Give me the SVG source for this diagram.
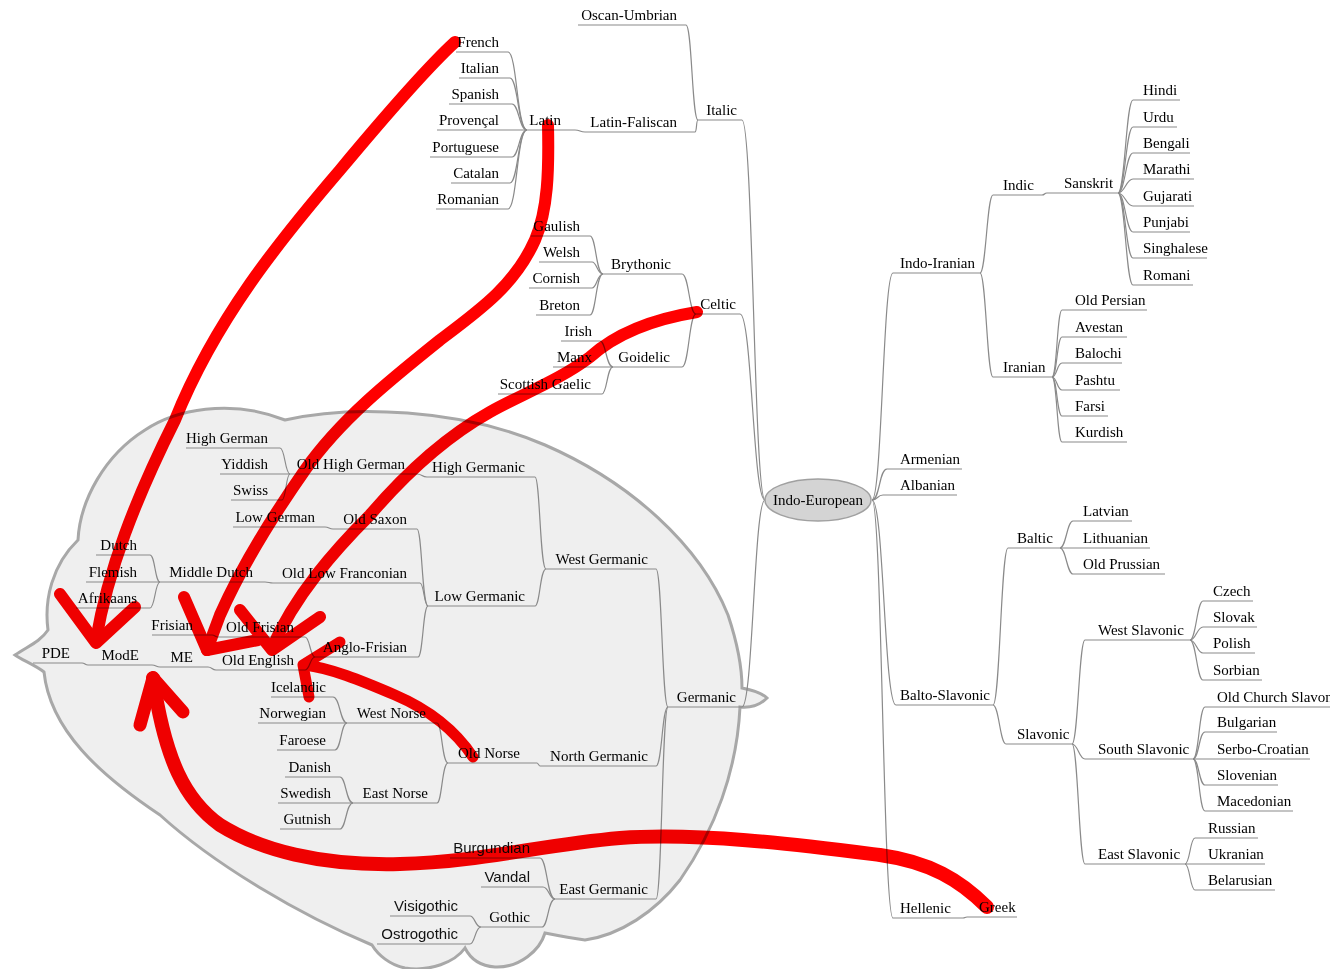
<svg xmlns="http://www.w3.org/2000/svg" width="1330" height="969" viewBox="0 0 1330 969">
<style>
.t{font-family:"Liberation Serif","Times New Roman",serif;font-size:15px;fill:#000}
.s{font-family:"Liberation Sans",Arial,sans-serif;font-size:15px;fill:#111}
.e{text-anchor:end}
.u{stroke:#8a8a8a;stroke-width:1.2;fill:none}
#connectors path{stroke:#8a8a8a;stroke-width:1.2;fill:none}
#annotations path{fill:none;stroke:#ff0000;stroke-linecap:round;stroke-linejoin:round}
</style>
<rect width="1330" height="969" fill="#fff"/>
<path id="cloud" d="M15,655 C28,646 40,642 48,630 C44,600 52,565 78,540 C80,500 105,455 145,430 C175,410 230,398 285,420 C350,405 460,408 545,445 C630,482 700,545 728,615 C738,645 742,670 742,688 C752,690 762,693 767,698 C760,705 750,708 740,707 C737,770 715,830 680,880 C655,912 620,935 585,940 C570,938 555,935 545,933 C540,950 520,968 495,967 C480,966 470,958 465,948 C455,962 430,972 405,968 C390,965 378,955 372,945 C300,915 215,865 160,815 C100,775 50,730 44,672 C35,665 22,660 15,655 Z" fill="#efefef" stroke="#a8a8a8" stroke-width="3"/>
<g id="connectors">
<path d="M742,120 C753,120 754,500 765,500"/>
<path d="M740,314 C752,314 753,500 765,500"/>
<path d="M742,707 C753,707 754,500 765,500"/>
<path d="M686,25 C692,25 692,120 698,120"/>
<path d="M695,132 C697,132 696,120 698,120"/>
<path d="M575,130 C580,130 580,132 585,132"/>
<path d="M508,52 C517,52 517,130 527,130"/>
<path d="M510,78 C518,78 518,130 527,130"/>
<path d="M512,104 C519,104 519,130 527,130"/>
<path d="M512,157 C519,157 519,130 527,130"/>
<path d="M510,183 C518,183 518,130 527,130"/>
<path d="M508,209 C517,209 517,130 527,130"/>
<path d="M682,274 C689,274 689,314 696,314"/>
<path d="M682,367 C689,367 689,314 696,314"/>
<path d="M590,236 C596,236 596,274 603,274"/>
<path d="M592,262 C597,262 597,274 603,274"/>
<path d="M592,288 C597,288 597,274 603,274"/>
<path d="M590,315 C596,315 596,274 603,274"/>
<path d="M600,341 C606,341 606,367 613,367"/>
<path d="M602,394 C607,394 607,367 613,367"/>
<path d="M656,569 C662,569 662,707 668,707"/>
<path d="M656,766 C662,766 662,707 668,707"/>
<path d="M656,899 C662,899 662,707 668,707"/>
<path d="M535,477 C540,477 540,569 546,569"/>
<path d="M535,606 C540,606 540,569 546,569"/>
<path d="M417,474 C422,474 422,477 427,477"/>
<path d="M280,448 C285,448 285,474 290,474"/>
<path d="M282,500 C286,500 286,474 290,474"/>
<path d="M417,529 C422,529 422,606 428,606"/>
<path d="M420,583 C424,583 424,606 428,606"/>
<path d="M418,657 C423,657 423,606 428,606"/>
<path d="M325,527 C329,527 329,529 333,529"/>
<path d="M265,582 C269,582 269,583 273,583"/>
<path d="M150,555 C155,555 155,582 160,582"/>
<path d="M150,608 C155,608 155,582 160,582"/>
<path d="M305,637 C310,637 310,657 315,657"/>
<path d="M305,670 C310,670 310,657 315,657"/>
<path d="M212,635 C215,635 215,637 218,637"/>
<path d="M208,667 C212,667 212,670 216,670"/>
<path d="M152,665 C156,665 156,667 160,667"/>
<path d="M82,663 C85,663 85,665 88,665"/>
<path d="M537,763 C538,763 539,766 540,766"/>
<path d="M437,723 C442,723 442,763 448,763"/>
<path d="M437,803 C442,803 442,763 448,763"/>
<path d="M333,697 C340,697 340,723 347,723"/>
<path d="M335,750 C341,750 341,723 347,723"/>
<path d="M340,777 C346,777 346,803 353,803"/>
<path d="M340,829 C346,829 346,803 353,803"/>
<path d="M540,858 C547,858 547,899 555,899"/>
<path d="M543,887 C549,887 549,899 555,899"/>
<path d="M542,927 C548,927 548,899 555,899"/>
<path d="M470,916 C475,916 475,927 481,927"/>
<path d="M470,944 C475,944 475,927 481,927"/>
<path d="M872,500 C882,500 883,273 893,273"/>
<path d="M872,500 C880,500 879,469 887,469"/>
<path d="M872,500 C878,500 877,495 883,495"/>
<path d="M872,500 C884,500 884,705 896,705"/>
<path d="M872,500 C882,500 883,918 893,918"/>
<path d="M980,273 C986,273 987,195 993,195"/>
<path d="M980,273 C986,273 987,377 993,377"/>
<path d="M1042,195 C1045,195 1044,193 1047,193"/>
<path d="M1118,193 C1125,193 1126,100 1133,100"/>
<path d="M1118,193 C1125,193 1126,127 1133,127"/>
<path d="M1118,193 C1125,193 1126,153 1133,153"/>
<path d="M1118,193 C1125,193 1126,179 1133,179"/>
<path d="M1118,193 C1125,193 1126,206 1133,206"/>
<path d="M1118,193 C1125,193 1126,232 1133,232"/>
<path d="M1118,193 C1125,193 1126,258 1133,258"/>
<path d="M1118,193 C1125,193 1126,285 1133,285"/>
<path d="M1052,377 C1057,377 1057,310 1062,310"/>
<path d="M1052,377 C1057,377 1057,337 1062,337"/>
<path d="M1052,377 C1057,377 1057,363 1062,363"/>
<path d="M1052,377 C1057,377 1057,390 1062,390"/>
<path d="M1052,377 C1057,377 1057,416 1062,416"/>
<path d="M1052,377 C1057,377 1057,442 1062,442"/>
<path d="M993,705 C1000,705 1001,548 1008,548"/>
<path d="M993,705 C999,705 1000,744 1006,744"/>
<path d="M1060,548 C1066,548 1067,521 1073,521"/>
<path d="M1060,548 C1066,548 1067,574 1073,574"/>
<path d="M1072,744 C1078,744 1079,640 1085,640"/>
<path d="M1072,744 C1078,744 1079,759 1085,759"/>
<path d="M1072,744 C1078,744 1079,864 1085,864"/>
<path d="M1190,640 C1196,640 1197,601 1203,601"/>
<path d="M1190,640 C1196,640 1197,627 1203,627"/>
<path d="M1190,640 C1196,640 1197,653 1203,653"/>
<path d="M1190,640 C1196,640 1197,680 1203,680"/>
<path d="M1193,759 C1199,759 1199,707 1205,707"/>
<path d="M1193,759 C1199,759 1199,732 1205,732"/>
<path d="M1193,759 C1199,759 1199,785 1205,785"/>
<path d="M1193,759 C1199,759 1199,811 1205,811"/>
<path d="M1185,864 C1190,864 1190,838 1195,838"/>
<path d="M1185,864 C1190,864 1190,890 1195,890"/>
<path d="M963,918 C965,918 965,917 967,917"/>
</g>
<g id="indo-european"><ellipse cx="818" cy="500" rx="53" ry="21" fill="#d4d4d4" stroke="#a0a0a0" stroke-width="1.5"/><text class="t" x="818" y="505" text-anchor="middle">Indo-European</text></g>
<g id="italic"><text class="t e" x="737" y="115">Italic</text><line class="u" x1="698" y1="120" x2="742" y2="120"/></g>
<g id="oscan-umbrian"><text class="t e" x="677" y="20">Oscan-Umbrian</text><line class="u" x1="578" y1="25" x2="686" y2="25"/></g>
<g id="latin-faliscan"><text class="t e" x="677" y="127">Latin-Faliscan</text><line class="u" x1="585" y1="132" x2="695" y2="132"/></g>
<g id="latin"><text class="t e" x="561" y="125">Latin</text><line class="u" x1="527" y1="130" x2="575" y2="130"/></g>
<g id="french"><text class="t e" x="499" y="47">French</text><line class="u" x1="456" y1="52" x2="508" y2="52"/></g>
<g id="italian"><text class="t e" x="499" y="73">Italian</text><line class="u" x1="459" y1="78" x2="510" y2="78"/></g>
<g id="spanish"><text class="t e" x="499" y="99">Spanish</text><line class="u" x1="449" y1="104" x2="512" y2="104"/></g>
<g id="provencal"><text class="t e" x="499" y="125">Provençal</text><line class="u" x1="437" y1="130" x2="527" y2="130"/></g>
<g id="portuguese"><text class="t e" x="499" y="152">Portuguese</text><line class="u" x1="430" y1="157" x2="512" y2="157"/></g>
<g id="catalan"><text class="t e" x="499" y="178">Catalan</text><line class="u" x1="451" y1="183" x2="510" y2="183"/></g>
<g id="romanian"><text class="t e" x="499" y="204">Romanian</text><line class="u" x1="436" y1="209" x2="508" y2="209"/></g>
<g id="celtic"><text class="t e" x="736" y="309">Celtic</text><line class="u" x1="696" y1="314" x2="740" y2="314"/></g>
<g id="brythonic"><text class="t e" x="671" y="269">Brythonic</text><line class="u" x1="603" y1="274" x2="682" y2="274"/></g>
<g id="goidelic"><text class="t e" x="670" y="362">Goidelic</text><line class="u" x1="613" y1="367" x2="682" y2="367"/></g>
<g id="gaulish"><text class="t e" x="580" y="231">Gaulish</text><line class="u" x1="531" y1="236" x2="590" y2="236"/></g>
<g id="welsh"><text class="t e" x="580" y="257">Welsh</text><line class="u" x1="539" y1="262" x2="592" y2="262"/></g>
<g id="cornish"><text class="t e" x="580" y="283">Cornish</text><line class="u" x1="529" y1="288" x2="592" y2="288"/></g>
<g id="breton"><text class="t e" x="580" y="310">Breton</text><line class="u" x1="536" y1="315" x2="590" y2="315"/></g>
<g id="irish"><text class="t e" x="592" y="336">Irish</text><line class="u" x1="561" y1="341" x2="600" y2="341"/></g>
<g id="manx"><text class="t e" x="592" y="362">Manx</text><line class="u" x1="553" y1="367" x2="613" y2="367"/></g>
<g id="scottish-gaelic"><text class="t e" x="591" y="389">Scottish Gaelic</text><line class="u" x1="498" y1="394" x2="602" y2="394"/></g>
<g id="germanic"><text class="t e" x="736" y="702">Germanic</text><line class="u" x1="668" y1="707" x2="742" y2="707"/></g>
<g id="west-germanic"><text class="t e" x="648" y="564">West Germanic</text><line class="u" x1="546" y1="569" x2="656" y2="569"/></g>
<g id="north-germanic"><text class="t e" x="648" y="761">North Germanic</text><line class="u" x1="540" y1="766" x2="656" y2="766"/></g>
<g id="east-germanic"><text class="t e" x="648" y="894">East Germanic</text><line class="u" x1="555" y1="899" x2="656" y2="899"/></g>
<g id="high-germanic"><text class="t e" x="525" y="472">High Germanic</text><line class="u" x1="427" y1="477" x2="535" y2="477"/></g>
<g id="low-germanic"><text class="t e" x="525" y="601">Low Germanic</text><line class="u" x1="428" y1="606" x2="535" y2="606"/></g>
<g id="old-high-german"><text class="t e" x="405" y="469">Old High German</text><line class="u" x1="290" y1="474" x2="417" y2="474"/></g>
<g id="high-german"><text class="t e" x="268" y="443">High German</text><line class="u" x1="186" y1="448" x2="280" y2="448"/></g>
<g id="yiddish"><text class="t e" x="268" y="469">Yiddish</text><line class="u" x1="220" y1="474" x2="290" y2="474"/></g>
<g id="swiss"><text class="t e" x="268" y="495">Swiss</text><line class="u" x1="231" y1="500" x2="282" y2="500"/></g>
<g id="old-saxon"><text class="t e" x="407" y="524">Old Saxon</text><line class="u" x1="333" y1="529" x2="417" y2="529"/></g>
<g id="old-low-franconian"><text class="t e" x="407" y="578">Old Low Franconian</text><line class="u" x1="273" y1="583" x2="420" y2="583"/></g>
<g id="anglo-frisian"><text class="t e" x="407" y="652">Anglo-Frisian</text><line class="u" x1="315" y1="657" x2="418" y2="657"/></g>
<g id="low-german"><text class="t e" x="315" y="522">Low German</text><line class="u" x1="233" y1="527" x2="325" y2="527"/></g>
<g id="middle-dutch"><text class="t e" x="253" y="577">Middle Dutch</text><line class="u" x1="160" y1="582" x2="265" y2="582"/></g>
<g id="dutch"><text class="t e" x="137" y="550">Dutch</text><line class="u" x1="96" y1="555" x2="150" y2="555"/></g>
<g id="flemish"><text class="t e" x="137" y="577">Flemish</text><line class="u" x1="86" y1="582" x2="160" y2="582"/></g>
<g id="afrikaans"><text class="t e" x="137" y="603">Afrikaans</text><line class="u" x1="76" y1="608" x2="150" y2="608"/></g>
<g id="old-frisian"><text class="t e" x="294" y="632">Old Frisian</text><line class="u" x1="218" y1="637" x2="305" y2="637"/></g>
<g id="old-english"><text class="t e" x="294" y="665">Old English</text><line class="u" x1="216" y1="670" x2="305" y2="670"/></g>
<g id="frisian"><text class="t e" x="193" y="630">Frisian</text><line class="u" x1="152" y1="635" x2="212" y2="635"/></g>
<g id="me"><text class="t e" x="193" y="662">ME</text><line class="u" x1="160" y1="667" x2="208" y2="667"/></g>
<g id="mode"><text class="t e" x="139" y="660">ModE</text><line class="u" x1="88" y1="665" x2="152" y2="665"/></g>
<g id="pde"><text class="t e" x="70" y="658">PDE</text><line class="u" x1="33" y1="663" x2="82" y2="663"/></g>
<g id="old-norse"><text class="t e" x="520" y="758">Old Norse</text><line class="u" x1="448" y1="763" x2="537" y2="763"/></g>
<g id="west-norse"><text class="t e" x="426" y="718">West Norse</text><line class="u" x1="347" y1="723" x2="437" y2="723"/></g>
<g id="east-norse"><text class="t e" x="428" y="798">East Norse</text><line class="u" x1="353" y1="803" x2="437" y2="803"/></g>
<g id="icelandic"><text class="t e" x="326" y="692">Icelandic</text><line class="u" x1="271" y1="697" x2="333" y2="697"/></g>
<g id="norwegian"><text class="t e" x="326" y="718">Norwegian</text><line class="u" x1="258" y1="723" x2="347" y2="723"/></g>
<g id="faroese"><text class="t e" x="326" y="745">Faroese</text><line class="u" x1="277" y1="750" x2="335" y2="750"/></g>
<g id="danish"><text class="t e" x="331" y="772">Danish</text><line class="u" x1="285" y1="777" x2="340" y2="777"/></g>
<g id="swedish"><text class="t e" x="331" y="798">Swedish</text><line class="u" x1="278" y1="803" x2="353" y2="803"/></g>
<g id="gutnish"><text class="t e" x="331" y="824">Gutnish</text><line class="u" x1="280" y1="829" x2="340" y2="829"/></g>
<g id="burgundian"><text class="s e" x="530" y="853">Burgundian</text><line class="u" x1="450" y1="858" x2="540" y2="858"/></g>
<g id="vandal"><text class="s e" x="530" y="882">Vandal</text><line class="u" x1="481" y1="887" x2="543" y2="887"/></g>
<g id="gothic"><text class="t e" x="530" y="922">Gothic</text><line class="u" x1="481" y1="927" x2="542" y2="927"/></g>
<g id="visigothic"><text class="s e" x="458" y="911">Visigothic</text><line class="u" x1="390" y1="916" x2="470" y2="916"/></g>
<g id="ostrogothic"><text class="s e" x="458" y="939">Ostrogothic</text><line class="u" x1="377" y1="944" x2="470" y2="944"/></g>
<g id="indo-iranian"><text class="t" x="900" y="268">Indo-Iranian</text><line class="u" x1="893" y1="273" x2="980" y2="273"/></g>
<g id="indic"><text class="t" x="1003" y="190">Indic</text><line class="u" x1="993" y1="195" x2="1042" y2="195"/></g>
<g id="sanskrit"><text class="t" x="1064" y="188">Sanskrit</text><line class="u" x1="1047" y1="193" x2="1118" y2="193"/></g>
<g id="hindi"><text class="t" x="1143" y="95">Hindi</text><line class="u" x1="1133" y1="100" x2="1180" y2="100"/></g>
<g id="urdu"><text class="t" x="1143" y="122">Urdu</text><line class="u" x1="1133" y1="127" x2="1177" y2="127"/></g>
<g id="bengali"><text class="t" x="1143" y="148">Bengali</text><line class="u" x1="1133" y1="153" x2="1190" y2="153"/></g>
<g id="marathi"><text class="t" x="1143" y="174">Marathi</text><line class="u" x1="1133" y1="179" x2="1194" y2="179"/></g>
<g id="gujarati"><text class="t" x="1143" y="201">Gujarati</text><line class="u" x1="1133" y1="206" x2="1194" y2="206"/></g>
<g id="punjabi"><text class="t" x="1143" y="227">Punjabi</text><line class="u" x1="1133" y1="232" x2="1190" y2="232"/></g>
<g id="singhalese"><text class="t" x="1143" y="253">Singhalese</text><line class="u" x1="1133" y1="258" x2="1207" y2="258"/></g>
<g id="romani"><text class="t" x="1143" y="280">Romani</text><line class="u" x1="1133" y1="285" x2="1193" y2="285"/></g>
<g id="iranian"><text class="t" x="1003" y="372">Iranian</text><line class="u" x1="993" y1="377" x2="1052" y2="377"/></g>
<g id="old-persian"><text class="t" x="1075" y="305">Old Persian</text><line class="u" x1="1062" y1="310" x2="1147" y2="310"/></g>
<g id="avestan"><text class="t" x="1075" y="332">Avestan</text><line class="u" x1="1062" y1="337" x2="1127" y2="337"/></g>
<g id="balochi"><text class="t" x="1075" y="358">Balochi</text><line class="u" x1="1062" y1="363" x2="1122" y2="363"/></g>
<g id="pashtu"><text class="t" x="1075" y="385">Pashtu</text><line class="u" x1="1062" y1="390" x2="1120" y2="390"/></g>
<g id="farsi"><text class="t" x="1075" y="411">Farsi</text><line class="u" x1="1062" y1="416" x2="1108" y2="416"/></g>
<g id="kurdish"><text class="t" x="1075" y="437">Kurdish</text><line class="u" x1="1062" y1="442" x2="1127" y2="442"/></g>
<g id="armenian"><text class="t" x="900" y="464">Armenian</text><line class="u" x1="887" y1="469" x2="962" y2="469"/></g>
<g id="albanian"><text class="t" x="900" y="490">Albanian</text><line class="u" x1="883" y1="495" x2="957" y2="495"/></g>
<g id="balto-slavonic"><text class="t" x="900" y="700">Balto-Slavonic</text><line class="u" x1="896" y1="705" x2="993" y2="705"/></g>
<g id="baltic"><text class="t" x="1017" y="543">Baltic</text><line class="u" x1="1008" y1="548" x2="1060" y2="548"/></g>
<g id="latvian"><text class="t" x="1083" y="516">Latvian</text><line class="u" x1="1073" y1="521" x2="1132" y2="521"/></g>
<g id="lithuanian"><text class="t" x="1083" y="543">Lithuanian</text><line class="u" x1="1060" y1="548" x2="1150" y2="548"/></g>
<g id="old-prussian"><text class="t" x="1083" y="569">Old Prussian</text><line class="u" x1="1073" y1="574" x2="1165" y2="574"/></g>
<g id="slavonic"><text class="t" x="1017" y="739">Slavonic</text><line class="u" x1="1006" y1="744" x2="1072" y2="744"/></g>
<g id="west-slavonic"><text class="t" x="1098" y="635">West Slavonic</text><line class="u" x1="1085" y1="640" x2="1190" y2="640"/></g>
<g id="south-slavonic"><text class="t" x="1098" y="754">South Slavonic</text><line class="u" x1="1085" y1="759" x2="1193" y2="759"/></g>
<g id="east-slavonic"><text class="t" x="1098" y="859">East Slavonic</text><line class="u" x1="1085" y1="864" x2="1185" y2="864"/></g>
<g id="czech"><text class="t" x="1213" y="596">Czech</text><line class="u" x1="1203" y1="601" x2="1253" y2="601"/></g>
<g id="slovak"><text class="t" x="1213" y="622">Slovak</text><line class="u" x1="1203" y1="627" x2="1257" y2="627"/></g>
<g id="polish"><text class="t" x="1213" y="648">Polish</text><line class="u" x1="1203" y1="653" x2="1255" y2="653"/></g>
<g id="sorbian"><text class="t" x="1213" y="675">Sorbian</text><line class="u" x1="1203" y1="680" x2="1262" y2="680"/></g>
<g id="old-church-slavonic"><text class="t" x="1217" y="702">Old Church Slavonic</text><line class="u" x1="1205" y1="707" x2="1340" y2="707"/></g>
<g id="bulgarian"><text class="t" x="1217" y="727">Bulgarian</text><line class="u" x1="1205" y1="732" x2="1277" y2="732"/></g>
<g id="serbo-croatian"><text class="t" x="1217" y="754">Serbo-Croatian</text><line class="u" x1="1193" y1="759" x2="1310" y2="759"/></g>
<g id="slovenian"><text class="t" x="1217" y="780">Slovenian</text><line class="u" x1="1205" y1="785" x2="1278" y2="785"/></g>
<g id="macedonian"><text class="t" x="1217" y="806">Macedonian</text><line class="u" x1="1205" y1="811" x2="1293" y2="811"/></g>
<g id="russian"><text class="t" x="1208" y="833">Russian</text><line class="u" x1="1195" y1="838" x2="1258" y2="838"/></g>
<g id="ukranian"><text class="t" x="1208" y="859">Ukranian</text><line class="u" x1="1185" y1="864" x2="1265" y2="864"/></g>
<g id="belarusian"><text class="t" x="1208" y="885">Belarusian</text><line class="u" x1="1195" y1="890" x2="1275" y2="890"/></g>
<g id="hellenic"><text class="t" x="900" y="913">Hellenic</text><line class="u" x1="893" y1="918" x2="963" y2="918"/></g>
<g id="greek"><text class="t" x="979" y="912">Greek</text><line class="u" x1="967" y1="917" x2="1017" y2="917"/></g>
<g id="annotations" style="mix-blend-mode:multiply">
<path stroke-width="12" d="M455,42 C430,65 390,110 340,170 C280,240 215,320 175,420 C135,500 108,570 96,640"/>
<path stroke-width="12" d="M60,594 L96,643 L135,607"/>
<path stroke-width="12" d="M548,125 C549,170 548,210 535,240 C515,285 480,310 440,340 C390,380 340,420 305,470 C270,520 240,570 220,615 L207,650"/>
<path stroke-width="12" d="M184,597 L207,650 L258,640"/>
<path stroke-width="12" d="M697,312 C660,318 620,330 590,357 C560,380 520,395 490,412 C440,440 400,480 370,515 C335,550 295,595 272,648"/>
<path stroke-width="12" d="M240,610 L272,650 L320,617"/>
<path stroke-width="11" d="M473,757 C455,730 430,710 395,695 C360,680 330,668 305,665"/>
<path stroke-width="11" d="M340,642 L303,665 L309,697"/>
<path stroke-width="14" d="M987,907 C960,880 930,862 880,855 C800,845 700,832 620,838 C540,845 480,862 400,864 C320,866 260,850 220,825 C185,800 165,760 153,678"/>
<path stroke-width="13" d="M140,725 L153,678 L183,712"/>
</g>
</svg>
